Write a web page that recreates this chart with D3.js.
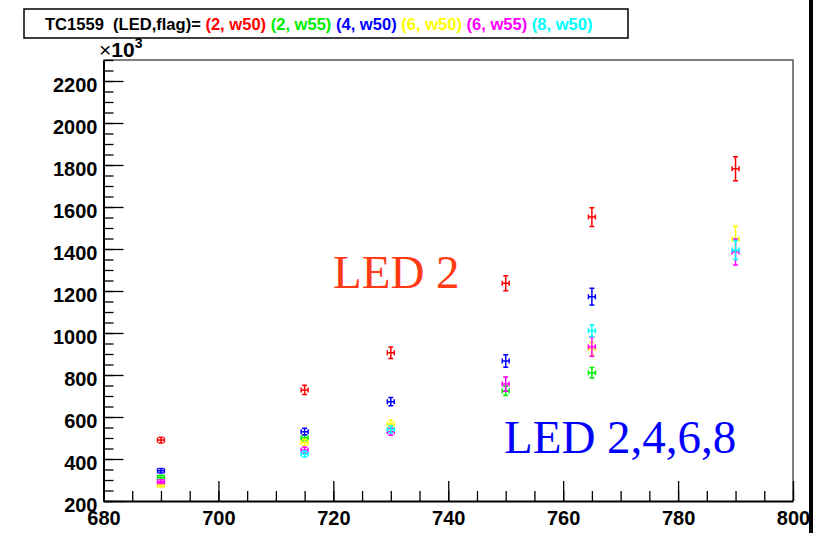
<!DOCTYPE html>
<html>
<head>
<meta charset="utf-8">
<script src="https://cdn.jsdelivr.net/npm/d3@7"></script>
<style>
  html, body { margin: 0; padding: 0; background: #fff; }
  svg { display: block; }
  .tick text { font-family: "Liberation Sans", Arial, sans-serif; font-weight: bold; font-size: 20px; fill: #000; }
</style>
</head>
<body>
<svg id="chart" width="821" height="533"></svg>
<script>
// Wavelength settings (nm) at which each LED/flag combination was measured
const wavelengths = [690, 715, 730, 750, 765, 790];

// Measured signal (x10^3) per LED/flag combination; null = not measured
const led2w50 = [490, 729, 906, 1237, 1552, 1782];
const led2w55 = [313, 501, null, 724, 811, null];
const led4w50 = [344, 530, 673, 867, 1173, null];
const led6w50 = [276, 478, 567, null, 925, 1448];
const led6w55 = [292, 443, 530, 757, 935, 1386];
const led8w50 = [null, 424, 541, null, 1011, 1395];

// Vertical uncertainties (x10^3)
const led2w50Err = [14, 22, 27, 36, 45, 57];
const led2w55Err = [10, 15, null, 22, 25, null];
const led4w50Err = [11, 16, 20, 30, 40, null];
const led6w50Err = [9, 15, 17, null, 30, 62];
const led6w55Err = [9, 14, 17, 34, 46, 62];
const led8w50Err = [null, 14, 17, null, 28, 45];

// Horizontal uncertainty (nm)
const wavelengthErr = 0.6;

const seriesLabels = ["(2, w50)", "(2, w55)", "(4, w50)", "(6, w50)", "(6, w55)", "(8, w50)"];
const seriesColors = ["#ff0000", "#00ee00", "#0000ff", "#ffff00", "#ff00ff", "#00ffff"];

const xTicks = [680, 700, 720, 740, 760, 780, 800];
const yTicks = [200, 400, 600, 800, 1000, 1200, 1400, 1600, 1800, 2000, 2200];

const series = [
  { values: led2w50, errs: led2w50Err },
  { values: led2w55, errs: led2w55Err },
  { values: led4w50, errs: led4w50Err },
  { values: led6w50, errs: led6w50Err },
  { values: led6w55, errs: led6w55Err },
  { values: led8w50, errs: led8w50Err }
];

const svg = d3.select("#chart");
const W = 821, H = 533;
const frame = { left: 103.5, right: 793, top: 60, bottom: 501 };

const x = d3.scaleLinear().domain([680, 800]).range([frame.left, frame.right]);
const y = d3.scaleLinear().domain([200, 2300]).range([frame.bottom, frame.top]);

// Frame (top and right edges)
svg.append("path")
  .attr("d", `M${frame.left},${frame.top}H${frame.right}V${frame.bottom}`)
  .attr("fill", "none").attr("stroke", "#555").attr("stroke-width", 1.5);

// Minor ticks
const yMinor = d3.range(200, 2301, 50);
const xMinor = d3.range(680, 801, 5);
svg.append("g").attr("transform", `translate(${frame.left},0)`)
  .call(d3.axisLeft(y).tickValues(yMinor).tickSize(-10).tickFormat(""))
  .call(g => g.select(".domain").remove())
  .call(g => g.selectAll("line").attr("stroke", "#000").attr("stroke-width", 1.3));
svg.append("g").attr("transform", `translate(0,${frame.bottom})`)
  .call(d3.axisBottom(x).tickValues(xMinor).tickSize(-10).tickFormat(""))
  .call(g => g.select(".domain").remove())
  .call(g => g.selectAll("line").attr("stroke", "#000").attr("stroke-width", 1.3));

// Major ticks + labels
const yAxis = svg.append("g").attr("transform", `translate(${frame.left},0)`)
  .call(d3.axisLeft(y).tickValues(yTicks).tickSize(-20).tickPadding(6).tickSizeOuter(0).tickFormat(d3.format("d")));
yAxis.selectAll("line").attr("stroke", "#000").attr("stroke-width", 1.3);
yAxis.select(".domain").attr("stroke", "#000").attr("stroke-width", 2);
yAxis.selectAll(".tick text")
  .attr("x", -6).attr("dy", null).attr("y", 10);

const xAxis = svg.append("g").attr("transform", `translate(0,${frame.bottom})`)
  .call(d3.axisBottom(x).tickValues(xTicks).tickSize(-20).tickPadding(7).tickSizeOuter(0).tickFormat(d3.format("d")));
xAxis.selectAll("line").attr("stroke", "#000").attr("stroke-width", 1.3);
xAxis.select(".domain").attr("stroke", "#000").attr("stroke-width", 2);
xAxis.selectAll(".tick text")
  .attr("dy", null).attr("y", 24);

// Axis multiplier
const mult = svg.append("text")
  .attr("x", 99).attr("y", 57)
  .attr("font-family", "Liberation Sans, Arial, sans-serif")
  .attr("font-size", 21).attr("fill", "#000");
mult.append("tspan").text("×");
mult.append("tspan").attr("font-weight", "bold").text("10");
mult.append("tspan").attr("font-weight", "bold").attr("font-size", 14).attr("dy", -9).text("3");

// Error-bar points
const capHalf = 2.5;
const pts = svg.append("g");
series.forEach((s, i) => {
  const color = seriesColors[i];
  s.values.forEach((v, j) => {
    if (v == null) return;
    const e = s.errs[j];
    const cx = x(wavelengths[j]), cy = y(v);
    const y0 = y(v - e), y1 = y(v + e);
    const x0 = x(wavelengths[j] - wavelengthErr), x1 = x(wavelengths[j] + wavelengthErr);
    const d = `M${cx},${y0}V${y1}` +
      `M${cx - capHalf},${y0}H${cx + capHalf}M${cx - capHalf},${y1}H${cx + capHalf}` +
      `M${x0},${cy}H${x1}` +
      `M${x0},${cy - capHalf}V${cy + capHalf}M${x1},${cy - capHalf}V${cy + capHalf}`;
    pts.append("path").attr("d", d).attr("fill", "none")
      .attr("stroke", color).attr("stroke-width", 1.5);
  });
});

// Annotations
svg.append("text").attr("x", 333).attr("y", 288)
  .attr("font-family", "Liberation Serif, Times New Roman, serif")
  .attr("font-size", 47).attr("fill", "#ff3a14").text("LED 2");
svg.append("text").attr("x", 504).attr("y", 453)
  .attr("font-family", "Liberation Serif, Times New Roman, serif")
  .attr("font-size", 47).attr("fill", "#0000ff").text("LED 2,4,6,8");

// Title box
svg.append("rect").attr("x", 24).attr("y", 9).attr("width", 604).attr("height", 29)
  .attr("fill", "#fff").attr("stroke", "#000").attr("stroke-width", 1.5);
const title = svg.append("text")
  .style("white-space", "pre")
  .attr("font-family", "Liberation Sans, Arial, sans-serif")
  .attr("font-weight", "bold").attr("font-size", 16);
title.append("tspan").attr("fill", "#000").text("TC1559  (LED,flag)= ");
seriesLabels.forEach((lab, i) => {
  title.append("tspan").attr("fill", seriesColors[i]).text(lab + (i < seriesLabels.length - 1 ? " " : ""));
});
const tl = title.node().getComputedTextLength();
const titleW = 548;
title.attr("transform", `translate(45,29.5) scale(${titleW / tl},1)`);

// Right border strip
svg.append("rect").attr("x", 809).attr("y", 0).attr("width", 4).attr("height", H).attr("fill", "#000");
</script>
</body>
</html>
